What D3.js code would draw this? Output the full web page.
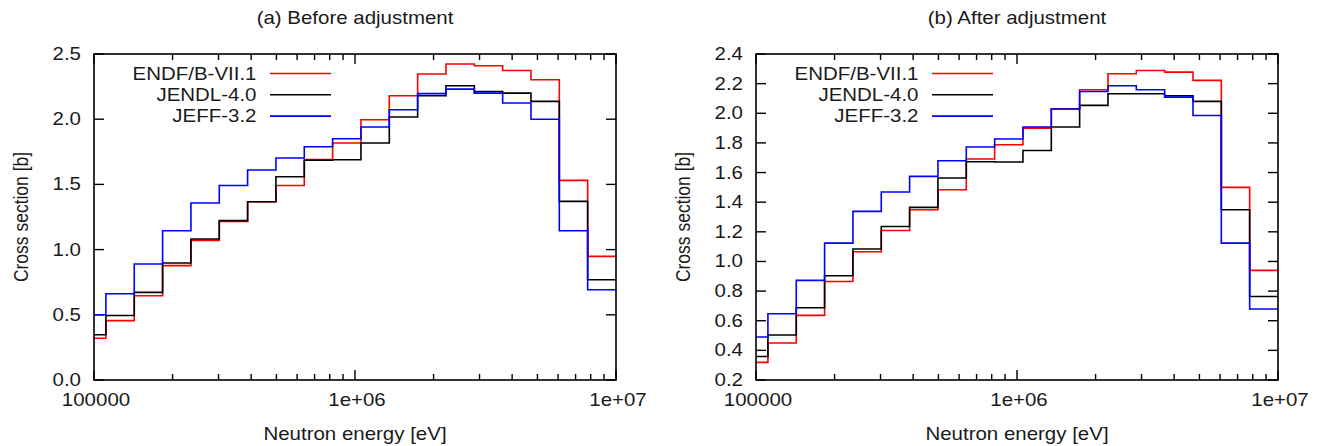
<!DOCTYPE html>
<html>
<head>
<meta charset="utf-8">
<script src="https://cdn.jsdelivr.net/npm/d3@7"></script>
<style>
  body { margin: 0; background: #fff; }
  text { font-family: "Liberation Sans", Arial, sans-serif; fill: #1a1a1a; }
</style>
</head>
<body>
<svg id="chart" width="1327" height="446"></svg>
<script>
"use strict";

// energy group boundaries [eV]
var groupBounds = [86517, 111090, 142642, 183156, 235177, 301974, 387742, 497871, 639279, 820850,
  1053992, 1353353, 1737739, 2231302, 2865048, 3678794, 4723666, 6065307, 7788008, 10000000];

var libNames = ["ENDF/B-VII.1", "JENDL-4.0", "JEFF-3.2"];
var libColors = ["#ff0000", "#000000", "#0000ff"];

// (a) before adjustment
var beforeEndf  = [0.320, 0.455, 0.646, 0.877, 1.071, 1.216, 1.367, 1.492, 1.690, 1.817, 1.996, 2.180, 2.347, 2.423, 2.410, 2.374, 2.303, 1.531, 0.948];
var beforeJendl = [0.347, 0.495, 0.672, 0.897, 1.081, 1.222, 1.367, 1.559, 1.685, 1.689, 1.817, 2.017, 2.180, 2.257, 2.213, 2.200, 2.137, 1.370, 0.769];
var beforeJeff  = [0.500, 0.662, 0.890, 1.145, 1.357, 1.492, 1.610, 1.702, 1.789, 1.850, 1.940, 2.073, 2.196, 2.231, 2.200, 2.124, 2.000, 1.145, 0.692];

// (b) after adjustment
var afterEndf  = [0.319, 0.450, 0.636, 0.865, 1.066, 1.209, 1.349, 1.484, 1.691, 1.788, 1.900, 2.030, 2.159, 2.267, 2.289, 2.278, 2.222, 1.500, 0.940];
var afterJendl = [0.359, 0.504, 0.688, 0.904, 1.084, 1.236, 1.365, 1.563, 1.673, 1.671, 1.749, 1.907, 2.053, 2.132, 2.132, 2.118, 2.080, 1.349, 0.764];
var afterJeff  = [0.490, 0.647, 0.872, 1.124, 1.338, 1.469, 1.574, 1.680, 1.772, 1.826, 1.907, 2.029, 2.147, 2.186, 2.159, 2.109, 1.985, 1.124, 0.679];

var xTickValues = [1e5, 1e6, 1e7];
var xTickLabels = ["100000", "1e+06", "1e+07"];
var yTicksBefore = [0.0, 0.5, 1.0, 1.5, 2.0, 2.5];
var yTicksAfter = [0.2, 0.4, 0.6, 0.8, 1.0, 1.2, 1.4, 1.6, 1.8, 2.0, 2.2, 2.4];

var svg = d3.select("#chart");
var fontSize = 17.5;
var stretch = 1.17;   // the text of the original is a bit wider than tall

function addText(g, x, y, str, anchor, rot) {
  var tr = "translate(" + x + "," + y + ") scale(" + stretch + ",1)";
  if (rot) tr += " rotate(" + rot + ")";
  return g.append("text")
    .attr("transform", tr)
    .attr("text-anchor", anchor)
    .style("font-size", fontSize + "px")
    .text(str);
}

function panel(id, left, title, yTicks, series) {
  var top = 54, width = 522, height = 326;
  var g = svg.append("g").attr("transform", "translate(" + left + "," + top + ")");

  var x = d3.scaleLog().domain([1e5, 1e7]).range([0, width]);
  var y = d3.scaleLinear().domain([yTicks[0], yTicks[yTicks.length - 1]]).range([height, 0]);

  g.append("clipPath").attr("id", "clip" + id)
    .append("rect").attr("width", width).attr("height", height);

  // minor ticks for the log axis
  var minor = [];
  [1e5, 1e6].forEach(function(dec) {
    for (var k = 2; k <= 9; k++) minor.push(dec * k);
  });

  var tickG = g.append("g").attr("stroke", "#000").attr("stroke-width", 1.4);
  xTickValues.forEach(function(v) {
    tickG.append("line").attr("x1", x(v)).attr("x2", x(v)).attr("y1", height).attr("y2", height - 10);
    tickG.append("line").attr("x1", x(v)).attr("x2", x(v)).attr("y1", 0).attr("y2", 10);
  });
  minor.forEach(function(v) {
    tickG.append("line").attr("x1", x(v)).attr("x2", x(v)).attr("y1", height).attr("y2", height - 6);
    tickG.append("line").attr("x1", x(v)).attr("x2", x(v)).attr("y1", 0).attr("y2", 6);
  });
  yTicks.forEach(function(v) {
    tickG.append("line").attr("x1", 0).attr("x2", 10).attr("y1", y(v)).attr("y2", y(v));
    tickG.append("line").attr("x1", width).attr("x2", width - 10).attr("y1", y(v)).attr("y2", y(v));
  });

  // tick labels
  yTicks.forEach(function(v) {
    addText(g, -13, y(v) + 6, d3.format(".1f")(v), "end");
  });
  xTickValues.forEach(function(v, i) {
    addText(g, x(v) + 2, height + 26, xTickLabels[i], "middle");
  });

  // step lines
  var line = d3.line()
    .x(function(d) { return x(d[0]); })
    .y(function(d) { return y(d[1]); })
    .curve(d3.curveStepAfter);

  var plot = g.append("g").attr("clip-path", "url(#clip" + id + ")");
  series.forEach(function(vals, s) {
    var pts = vals.map(function(v, i) { return [groupBounds[i], v]; });
    pts.push([groupBounds[groupBounds.length - 1], vals[vals.length - 1]]);
    plot.append("path")
      .attr("d", line(pts))
      .attr("fill", "none")
      .attr("stroke", libColors[s])
      .attr("stroke-width", 1.6);
  });

  // frame
  g.append("rect")
    .attr("width", width).attr("height", height)
    .attr("fill", "none").attr("stroke", "#000").attr("stroke-width", 1.6);

  // legend
  libNames.forEach(function(name, i) {
    var ly = 19.5 + i * 21.3;
    addText(g, 162.5, ly + 6, name, "end");
    g.append("line")
      .attr("x1", 176).attr("x2", 237)
      .attr("y1", ly).attr("y2", ly)
      .attr("stroke", libColors[i]).attr("stroke-width", 1.6);
  });

  // titles
  addText(g, width / 2, -30, title, "middle");
  addText(g, width / 2, height + 60, "Neutron energy [eV]", "middle");
  addText(g, -66, height / 2, "Cross section [b]", "middle", -90);
}

panel("a", 94, "(a) Before adjustment", yTicksBefore, [beforeEndf, beforeJendl, beforeJeff]);
panel("b", 756, "(b) After adjustment", yTicksAfter, [afterEndf, afterJendl, afterJeff]);
</script>
</body>
</html>
